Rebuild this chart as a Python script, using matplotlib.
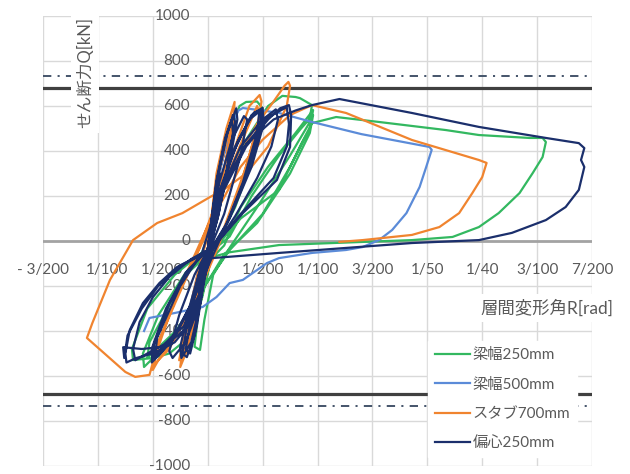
import numpy as np
import matplotlib
matplotlib.use('Agg')
import matplotlib.pyplot as plt

plt.rcParams['font.family'] = ['Lato', 'Noto Sans CJK JP', 'DejaVu Sans']
plt.rcParams['lines.scale_dashes'] = False

# (story drift R [1/1000 rad], shear Q [kN])
green = [(0, -40), (0.6, 180), (1.0, 300), (0.5, 100), (0, -60), (-0.6, -250), (-1.1, -350), (-0.6, -160), (0, -40),
         (0.8, 250), (1.8, 460), (2.9, 600), (3.5, 618), (4.5, 620), (5.0, 590), (4.5, 420), (2.5, 150), (0.5, -40),
         (-0.5, -250), (-1.5, -420), (-3.5, -500), (-5.0, -520), (-6.8, -529), (-6.9, -480), (-5.5, -300),
         (-3.0, -150), (-0.5, -50),
         (1.5, 230), (3.5, 450), (5.5, 600), (6.8, 645), (8.0, 640), (8.4, 635), (9.5, 604), (9.2, 520), (7.5, 380),
         (4.5, 150), (2.0, -30), (0.5, -150), (-0.3, -350), (-0.7, -484), (-1.2, -470), (-0.8, -300), (0.3, -80),
         (1.5, -20),
         (3.0, 150), (5.5, 330), (8.0, 480), (9.6, 582), (9.3, 500), (7.5, 330), (5.0, 120), (2.0, -40), (-1.0, -250),
         (-3.5, -450), (-5.8, -560), (-5.9, -500), (-4.5, -330), (-2.0, -140), (0, -60),
         (2.0, 20), (4.0, 200), (6.5, 380), (8.5, 500), (9.6, 560), (9.3, 480), (7.5, 300), (4.5, 80), (1.5, -60),
         (-2.5, -380), (-5.5, -520), (-5.3, -450), (-2.0, -150), (0.5, -40),
         (3.0, 100), (6.5, 227), (8.5, 430), (9.5, 524), (11.7, 551), (15.6, 529), (21.7, 493), (24.7, 471),
         (29.3, 458), (30.5, 458), (30.8, 440), (30.5, 373), (29.6, 302), (28.4, 213), (26.5, 124), (24.7, 62),
         (22.3, 18), (18.6, 4), (12.0, -8), (6.5, -18), (2.0, -50), (0.5, -70)]

blue = [(0, -40), (0.6, 170), (1.0, 280), (0.5, 80), (0, -60), (-0.6, -250), (-1.0, -320), (-0.5, -150), (0, -40),
        (1.0, 300), (2.0, 480), (2.4, 530), (2.1, 400), (0.8, 100), (-0.5, -200), (-1.5, -420), (-2.3, -490),
        (-2.0, -380), (-0.8, -120), (0, -40),
        (1.2, 330), (2.2, 520), (2.8, 580), (3.2, 591), (5.0, 580), (6.5, 569), (9.5, 529), (14.0, 475), (20.2, 418),
        (20.4, 405), (19.9, 329), (19.3, 240), (18.1, 124), (16.8, 49), (15.6, 4), (14.1, -27), (12.6, -40),
        (9.5, -53), (6.5, -76), (5.4, -98), (3.2, -173), (2.0, -187), (0.8, -249), (-0.45, -293), (-3.0, -320),
        (-5.3, -342), (-5.8, -400)]

orange = [(0, -40), (0.6, 200), (1.0, 320), (0.5, 100), (0, -60), (-0.6, -260), (-1.0, -350), (-0.5, -150), (0, -40),
          (0.8, 300), (1.7, 500), (2.45, 618), (2.3, 520), (1.2, 250), (0, -50), (-1.0, -330), (-2.0, -500),
          (-2.5, -560), (-2.3, -480), (-1.2, -250), (0, -40),
          (1.0, 300), (2.0, 500), (2.3, 560), (2.1, 480), (1.0, 180), (-0.5, -200), (-1.8, -450), (-2.6, -530),
          (-2.2, -430), (-0.8, -120),
          (1.0, 200), (2.5, 420), (3.8, 600), (4.73, 649), (4.9, 620), (4.5, 500), (3.0, 250), (1.0, -20),
          (-1.0, -250), (-3.0, -430), (-4.5, -530), (-5.0, -573), (-4.7, -500), (-3.0, -260), (-1.0, -60),
          (1.0, 200), (3.0, 430), (4.5, 600), (4.8, 560), (3.5, 330), (1.5, 60), (-1.0, -250), (-3.5, -480),
          (-5.0, -555), (-4.5, -450), (-2.0, -150),
          (0.5, 120), (2.5, 350), (4.5, 520), (6.0, 620), (7.0, 690), (7.35, 707), (7.5, 690), (7.2, 600),
          (5.5, 420), (3.5, 300), (1.5, 230), (0.2, 195), (-2.3, 124), (-4.6, 80), (-6.8, 4), (-8.9, -173),
          (-10.5, -364), (-11.0, -431), (-7.5, -582), (-6.6, -604), (-5.3, -595), (-4.5, -450), (-3.0, -280),
          (-1.0, -60), (1.0, 150), (3.0, 330), (5.0, 450), (7.5, 560), (9.5, 604), (12.6, 569), (18.6, 449),
          (24.7, 360), (25.4, 347), (25.0, 284), (24.1, 213), (22.9, 124), (21.1, 62), (18.6, 27), (14.1, 4),
          (12.0, -4)]

navy = [(0, -40), (0.6, 180), (1.0, 290), (0.5, 90), (0, -60), (-0.6, -250), (-1.0, -340), (-0.5, -150), (0, -40),
        (0.6, 170), (1.1, 300), (0.5, 80), (-0.1, -80), (-0.7, -270), (-1.1, -350), (-0.5, -140), (0, -40),
        (0.8, 260), (1.6, 450), (2.3, 560), (2.5, 530), (2.0, 380), (1.0, 120), (0, -60), (-0.6, -250),
        (-1.2, -420), (-1.9, -516), (-2.3, -500), (-1.8, -350), (-0.8, -150), (0, -40),
        (0.9, 280), (1.8, 480), (2.6, 590), (2.7, 540), (2.1, 380), (0.9, 100), (-0.1, -80), (-0.7, -280),
        (-1.5, -450), (-2.4, -520), (-2.5, -470), (-1.7, -300), (-0.6, -110), (0, -40),
        (0.8, 270), (1.6, 460), (2.2, 540), (2.3, 480), (1.6, 280), (0.5, 40), (-0.4, -200), (-1.0, -380),
        (-1.6, -500), (-2.0, -480), (-1.2, -250), (0, -40),
        (1.0, 250), (2.2, 450), (3.3, 555), (3.6, 540), (3.0, 380), (1.5, 120), (0, -60), (-0.9, -300),
        (-2.0, -450), (-3.2, -520), (-3.5, -490), (-2.6, -330), (-1.2, -150), (0, -40),
        (1.0, 200), (2.5, 420), (4.0, 560), (5.0, 592), (5.1, 520), (4.0, 330), (2.0, 100), (0, -60),
        (-1.5, -280), (-3.0, -420), (-4.3, -500), (-5.0, -520), (-5.1, -480), (-3.8, -300), (-2.0, -140), (0, -40),
        (1.2, 230), (2.8, 450), (4.2, 570), (4.9, 585), (4.8, 500), (3.6, 300), (1.8, 80), (-0.2, -80),
        (-1.6, -300), (-3.2, -440), (-4.5, -510), (-5.1, -540), (-4.9, -460), (-3.5, -280), (-1.8, -130), (0, -40),
        (0.9, 200), (2.4, 400), (3.8, 540), (4.7, 575), (4.5, 480), (3.2, 260), (1.5, 50), (-1.2, -250),
        (-2.8, -400), (-4.8, -510), (-4.6, -430), (-2.5, -200), (-0.5, -50),
        (1.2, 220), (3.0, 420), (5.0, 540), (6.2, 585), (6.4, 540), (5.8, 420), (4.5, 280), (2.5, 110),
        (0.3, -50), (-0.8, -240), (-2.2, -380), (-4.0, -460), (-5.5, -500), (-6.6, -530), (-6.8, -480),
        (-6.2, -360), (-5.0, -250), (-3.5, -160), (-1.5, -80), (0, -40),
        (1.5, 230), (3.5, 420), (5.5, 540), (6.6, 590), (7.4, 604), (7.6, 560), (7.5, 418), (6.3, 271),
        (3.2, 124), (0.5, -27), (-0.5, -200), (-1.5, -360), (-3.0, -450), (-5.0, -500), (-6.5, -520),
        (-7.4, -540), (-7.5, -500), (-7.1, -396), (-5.9, -276), (-4.4, -187), (-2.8, -116), (-1.0, -70), (0, -40),
        (1.5, 240), (3.5, 430), (5.5, 550), (7.2, 595), (7.4, 520), (7.2, 420), (6.0, 280), (3.0, 120),
        (0.3, -40), (-0.8, -260), (-2.0, -390), (-4.0, -470), (-6.0, -480), (-7.7, -472), (-7.6, -520),
        (-7.3, -420), (-6.0, -300), (-4.5, -200), (-2.5, -110), (0, -50),
        (1.5, 250), (3.5, 430), (6.0, 540), (8.0, 580), (9.5, 604), (12.0, 631), (18.6, 569), (24.7, 507),
        (30.8, 458), (33.8, 435), (34.3, 413), (34.0, 360), (34.3, 329), (33.8, 227), (32.6, 151), (30.8, 93),
        (27.7, 36), (24.7, 4), (18.6, -9), (12.5, -31), (6.5, -53), (0.4, -76)]

series = [green, blue, orange, navy]
names = ['梁幅250mm', '梁幅500mm', 'スタブ700mm', '偏心250mm']
colors = ['#33B860', '#5B8BD8', '#F0842F', '#1B2F6C']

q_limit = 681
q_design = 733

xtick_vals = [-0.015, -0.01, -0.005, 0.005, 0.01, 0.015, 0.02, 0.025, 0.03, 0.035]
xtick_labels = ['- 3/200', '1/100', '1/200', '1/200', '1/100', '3/200', '1/50', '1/40', '3/100', '7/200']
ytick_vals = list(range(-1000, 1001, 200))

txt = '#595959'

fig = plt.figure(figsize=(6.3, 4.74), dpi=100)
ax = fig.add_axes([43/630, 8/474, 549/630, 450/474])
ax.set_xlim(-0.015, 0.035)
ax.set_ylim(-1000, 1000)
for s in ax.spines.values():
    s.set_visible(False)
ax.set_xticks(np.arange(-0.015, 0.0351, 0.005))
ax.set_yticks(ytick_vals)
ax.tick_params(length=0, labelbottom=False, labelleft=False)
ax.grid(color='#D9D9D9', lw=1.0, zorder=0)
ax.set_axisbelow(True)

ax.axhline(0, color='#A3A3A3', lw=2.0, zorder=1)
for q in (q_limit, -q_limit):
    ax.axhline(q, color='#404040', lw=2.3, zorder=1.8)
for q in (q_design, -q_design):
    ax.axhline(q, color='#44546A', lw=1.4, dashes=(6, 4.5, 1.5, 4.5), zorder=1.8)

for pts, name, c in zip(series, names, colors):
    r, q = np.array(pts, dtype=float).T
    ax.plot(r / 1000, q, color=c, lw=1.6, label=name, zorder=2)

for v in ytick_vals:
    ax.text(-0.0016, v, str(v), ha='right', va='center', fontsize=11, color=txt, zorder=1.5)
for v, lab in zip(xtick_vals, xtick_labels):
    off = 0.0008 if -0.012 < v < 0 else 0
    ax.text(v + off, -129, lab, ha='center', va='center', fontsize=11, color=txt, zorder=1.5)

ax.legend(loc='lower right', bbox_to_anchor=(0.987, 0.003), frameon=True, fancybox=False,
          edgecolor='white', facecolor='white', framealpha=1, fontsize=11,
          handlelength=2.3, handletextpad=0.15, labelspacing=1.0, borderpad=0.45,
          labelcolor=txt)

fig.text(85/630, 1 - 72/474, 'せん断力Q[kN]', rotation=90, ha='center', va='center',
         fontsize=12, color=txt, bbox=dict(facecolor='white', edgecolor='none', pad=4))
fig.text(613/630, 1 - 308/474, '層間変形角R[rad]', ha='right', va='center',
         fontsize=12.5, color=txt, bbox=dict(facecolor='white', edgecolor='none', pad=4))

fig.savefig('out.png', dpi=100)
